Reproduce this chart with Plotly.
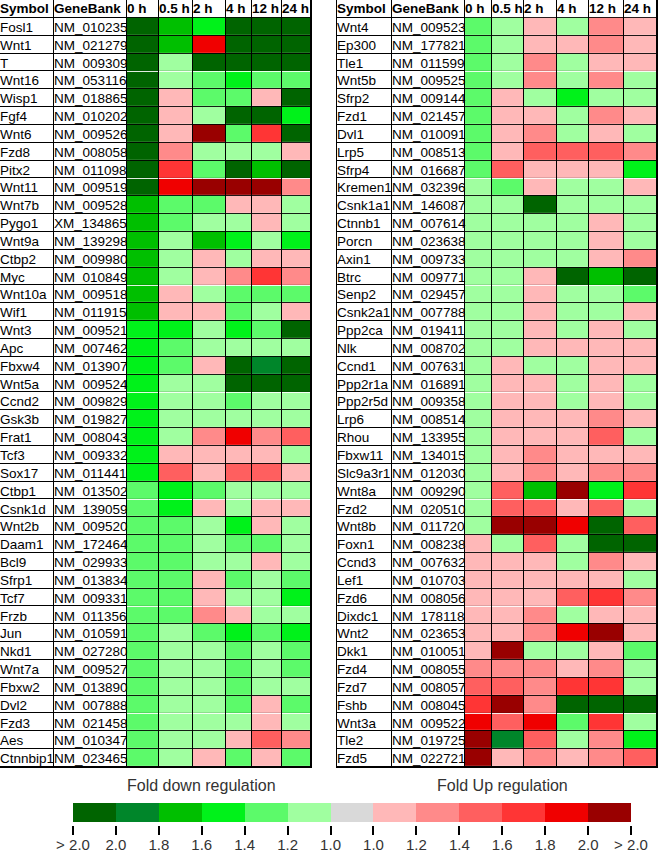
import numpy as np
import plotly.graph_objects as go

#------------------------------------------------------------
#                          DATA
#------------------------------------------------------------

time_points = ['0 h', '0.5 h', '2 h', '4 h', '12 h', '24 h']
header = ['Symbol', 'GeneBank'] + time_points

# fold level per cell: -6 (> 2.0 down) ... -1 (1.2 down), 0 (1.0), 1 (1.2 up) ... 6 (> 2.0 up)
symbols_left = ['Fosl1', 'Wnt1', 'T', 'Wnt16', 'Wisp1', 'Fgf4', 'Wnt6', 'Fzd8', 'Pitx2', 'Wnt11',
                'Wnt7b', 'Pygo1', 'Wnt9a', 'Ctbp2', 'Myc', 'Wnt10a', 'Wif1', 'Wnt3', 'Apc', 'Fbxw4',
                'Wnt5a', 'Ccnd2', 'Gsk3b', 'Frat1', 'Tcf3', 'Sox17', 'Ctbp1', 'Csnk1d', 'Wnt2b', 'Daam1',
                'Bcl9', 'Sfrp1', 'Tcf7', 'Frzb', 'Jun', 'Nkd1', 'Wnt7a', 'Fbxw2', 'Dvl2', 'Fzd3',
                'Aes', 'Ctnnbip1']
genebank_left = ['NM_010235', 'NM_021279', 'NM_009309', 'NM_053116', 'NM_018865', 'NM_010202',
                 'NM_009526', 'NM_008058', 'NM_011098', 'NM_009519', 'NM_009528', 'XM_134865',
                 'NM_139298', 'NM_009980', 'NM_010849', 'NM_009518', 'NM_011915', 'NM_009521',
                 'NM_007462', 'NM_013907', 'NM_009524', 'NM_009829', 'NM_019827', 'NM_008043',
                 'NM_009332', 'NM_011441', 'NM_013502', 'NM_139059', 'NM_009520', 'NM_172464',
                 'NM_029933', 'NM_013834', 'NM_009331', 'NM_011356', 'NM_010591', 'NM_027280',
                 'NM_009527', 'NM_013890', 'NM_007888', 'NM_021458', 'NM_010347', 'NM_023465']
fold_left = [
    [-6, -4, -3, -6, -6, -6],
    [-6, -4,  5, -6, -6, -6],
    [-6, -1, -6, -6, -6, -6],
    [-6, -1, -2, -3, -2, -2],
    [-6,  1, -2, -2,  1, -6],
    [-6,  1, -1, -6, -6, -3],
    [-6,  1,  6, -2,  4, -6],
    [-6,  2, -1, -1, -1,  1],
    [-6,  4, -2, -6, -4, -6],
    [-6,  5,  6,  6,  6,  2],
    [-4, -2, -2,  1,  1, -1],
    [-4, -2, -1, -1,  1, -1],
    [-4, -1, -4, -3, -1, -3],
    [-4, -1,  1, -1,  1,  1],
    [-4, -1,  1,  2,  4,  2],
    [-4,  1, -1, -2, -2, -2],
    [-4,  1,  1, -2, -1,  1],
    [-3, -3, -1, -3, -2, -6],
    [-3, -2, -1, -1, -1, -1],
    [-3, -2,  1, -6, -5, -6],
    [-3, -1, -1, -6, -6, -6],
    [-3, -1, -1, -2, -1, -1],
    [-3, -1, -1, -1, -1, -1],
    [-3, -1,  2,  5,  2,  3],
    [-3,  1,  1,  1,  1, -1],
    [-3,  3,  1,  3,  3,  1],
    [-2, -3, -2, -1, -1, -1],
    [-2, -3,  1, -1,  1,  1],
    [-2, -2, -1, -3,  1, -1],
    [-2, -2, -1, -2, -2, -1],
    [-2, -2, -1, -1,  1, -1],
    [-2, -2,  1, -2, -1, -2],
    [-2, -2,  1, -1, -1, -3],
    [-2, -2,  2,  1, -1, -1],
    [-2, -1, -2, -3, -2, -3],
    [-2, -1, -1, -2, -1, -2],
    [-2, -1, -1, -2, -1, -2],
    [-2, -1, -1, -2, -1, -1],
    [-2, -1, -1, -2,  1, -2],
    [-2, -1, -1, -1,  1, -1],
    [-2, -1, -1,  1,  3,  2],
    [-2, -1,  1, -2,  1, -2],
]

symbols_right = ['Wnt4', 'Ep300', 'Tle1', 'Wnt5b', 'Sfrp2', 'Fzd1', 'Dvl1', 'Lrp5', 'Sfrp4', 'Kremen1',
                 'Csnk1a1', 'Ctnnb1', 'Porcn', 'Axin1', 'Btrc', 'Senp2', 'Csnk2a1', 'Ppp2ca', 'Nlk', 'Ccnd1',
                 'Ppp2r1a', 'Ppp2r5d', 'Lrp6', 'Rhou', 'Fbxw11', 'Slc9a3r1', 'Wnt8a', 'Fzd2', 'Wnt8b', 'Foxn1',
                 'Ccnd3', 'Lef1', 'Fzd6', 'Dixdc1', 'Wnt2', 'Dkk1', 'Fzd4', 'Fzd7', 'Fshb', 'Wnt3a',
                 'Tle2', 'Fzd5']
genebank_right = ['NM_009523', 'NM_177821', 'NM_011599', 'NM_009525', 'NM_009144', 'NM_021457',
                  'NM_010091', 'NM_008513', 'NM_016687', 'NM_032396', 'NM_146087', 'NM_007614',
                  'NM_023638', 'NM_009733', 'NM_009771', 'NM_029457', 'NM_007788', 'NM_019411',
                  'NM_008702', 'NM_007631', 'NM_016891', 'NM_009358', 'NM_008514', 'NM_133955',
                  'NM_134015', 'NM_012030', 'NM_009290', 'NM_020510', 'NM_011720', 'NM_008238',
                  'NM_007632', 'NM_010703', 'NM_008056', 'NM_178118', 'NM_023653', 'NM_010051',
                  'NM_008055', 'NM_008057', 'NM_008045', 'NM_009522', 'NM_019725', 'NM_022721']
fold_right = [
    [-2, -1,  1, -1,  2,  1],
    [-2, -1,  1,  1,  2,  1],
    [-2, -1,  2, -1,  1,  1],
    [-2, -1,  2, -1,  2, -1],
    [-2,  1, -1, -3, -1, -1],
    [-2,  1,  1, -1,  2,  1],
    [-2,  1,  2, -1,  1, -1],
    [-2,  1,  3,  3,  3,  2],
    [-2,  3,  1,  1,  1, -3],
    [-1, -2,  1, -1, -1,  1],
    [-1, -1, -6, -1, -1, -1],
    [-1, -1, -1, -1,  1, -1],
    [-1, -1, -1, -1,  1, -1],
    [-1, -1, -1, -1,  1,  2],
    [-1, -1,  1, -6, -4, -6],
    [-1, -1,  1, -1, -1, -2],
    [-1, -1,  1, -1, -1,  1],
    [-1, -1,  1, -1,  1, -1],
    [-1, -1,  1,  1,  1,  1],
    [-1,  1, -1, -1,  1,  1],
    [-1,  1,  1, -1,  1, -1],
    [-1,  1,  1, -1,  1, -1],
    [-1,  1,  1,  1,  2,  1],
    [-1,  1,  1,  1,  3, -1],
    [-1,  1,  2,  1,  1,  1],
    [-1,  1,  2,  1,  2,  2],
    [-1,  3, -4,  6, -3,  4],
    [-1,  3,  3,  1,  3, -1],
    [-1,  6,  6,  5, -6,  3],
    [ 1, -1,  3, -1, -6, -6],
    [ 1,  1,  1, -1,  2,  1],
    [ 1,  1,  1,  1,  1, -1],
    [ 1,  1,  1,  3,  4,  2],
    [ 1,  1,  2, -1,  1,  1],
    [ 1,  1,  2,  5,  6,  1],
    [ 1,  6, -1, -1,  1, -2],
    [ 2,  2,  2,  1,  2, -1],
    [ 3,  3,  2,  4,  4, -1],
    [ 4,  6,  2, -6, -6, -6],
    [ 5,  3,  5, -2,  4, -1],
    [ 6, -5,  3, -1,  2, -3],
    [ 6,  1,  2,  1,  2,  3],
]

legend_levels = [-6, -5, -4, -3, -2, -1, 0, 1, 2, 3, 4, 5, 6]
legend_labels = ['> 2.0', '2.0', '1.8', '1.6', '1.4', '1.2', '1.0',
                 '1.0', '1.2', '1.4', '1.6', '1.8', '2.0', '> 2.0']

#------------------------------------------------------------
#                    LAYOUT / STYLE
#------------------------------------------------------------

W, H = 658, 853
level_colors = ['#006400', '#00862a', '#00bf00', '#00f21a', '#5cfa6a', '#a0ffa0', '#d9d9d9',
                '#ffb8b8', '#ff8a8a', '#ff5f5f', '#ff3535', '#f00000', '#990000']
n = len(level_colors)
colorscale = []
for i, c in enumerate(level_colors):
    colorscale.append([i / n, c])
    colorscale.append([(i + 1) / n, c])

edges_left = [0, 54, 127, 159, 193, 226, 252, 282, 311]
edges_right = [0, 55, 128, 155, 187, 220, 252, 287, 320]
left_px, right_px = 0, 337
table_bottom = 767
font_name = 'Liberation Sans, Arial, sans-serif'
cell_font = dict(family=font_name, size=13.5, color='black')

fig = go.Figure()


def add_table(fold, symbols, genebank, edges, xa, ya):
    nrows = len(symbols) + 1
    # white background cells (header + text columns)
    fig.add_trace(go.Heatmap(z=np.zeros((nrows, len(edges) - 1)), x=edges, y=np.arange(nrows + 1),
                             colorscale=[[0, 'white'], [1, 'white']], showscale=False,
                             xgap=1, ygap=1, hoverinfo='skip', xaxis=xa, yaxis=ya))
    fig.add_trace(go.Heatmap(z=fold, x=edges[2:], y=np.arange(1, nrows + 1),
                             colorscale=colorscale, zmin=-6.5, zmax=6.5, showscale=False,
                             xgap=1, ygap=1, xaxis=xa, yaxis=ya))
    rows = np.arange(1, nrows) + 0.6
    fig.add_trace(go.Scatter(x=[edges[0]] * (nrows - 1), y=rows, text=symbols, mode='text',
                             textposition='middle right', xaxis=xa, yaxis=ya,
                             textfont=cell_font, hoverinfo='skip'))
    fig.add_trace(go.Scatter(x=[edges[1]] * (nrows - 1), y=rows, text=genebank, mode='text',
                             textposition='middle right', xaxis=xa, yaxis=ya,
                             textfont=cell_font, hoverinfo='skip'))
    fig.add_trace(go.Scatter(x=edges[:-1], y=[0.55] * len(header), text=['<b>%s</b>' % h for h in header],
                             mode='text', textposition='middle right', xaxis=xa, yaxis=ya,
                             textfont=cell_font, hoverinfo='skip'))


add_table(fold_left, symbols_left, genebank_left, edges_left, 'x', 'y')
add_table(fold_right, symbols_right, genebank_right, edges_right, 'x2', 'y2')

# colour key
fig.add_trace(go.Heatmap(z=[legend_levels], x=np.arange(len(legend_levels) + 1), y=[0, 1],
                         colorscale=colorscale, zmin=-6.5, zmax=6.5, showscale=False,
                         xaxis='x3', yaxis='y3'))

y_dom = [1 - table_bottom / H, 1]
ax_common = dict(showgrid=False, zeroline=False, showticklabels=False, ticks='', automargin=False,
                 showline=True, linecolor='black', linewidth=1, mirror=True)

fig.update_layout(
    width=W, height=H,
    margin=dict(l=0, r=0, t=0, b=0, pad=0, autoexpand=False),
    paper_bgcolor='white', plot_bgcolor='black',
    showlegend=False,
    xaxis=dict(domain=[left_px / W, (left_px + edges_left[-1]) / W], range=[0, edges_left[-1]],
               anchor='y', **ax_common),
    yaxis=dict(domain=y_dom, range=[len(symbols_left) + 1, 0], anchor='x', **ax_common),
    xaxis2=dict(domain=[right_px / W, (right_px + edges_right[-1]) / W], range=[0, edges_right[-1]],
                anchor='y2', **ax_common),
    yaxis2=dict(domain=y_dom, range=[len(symbols_right) + 1, 0], anchor='x2', **ax_common),
    xaxis3=dict(domain=[73 / W, 631 / W], range=[0, len(legend_levels)], anchor='free',
                position=1 - 825 / H, showgrid=False, zeroline=False, automargin=False,
                tickvals=list(range(len(legend_labels))), ticktext=legend_labels,
                ticks='outside', ticklen=9, tickwidth=2, tickcolor='black',
                ticklabelstandoff=-3,
                tickfont=dict(family=font_name, size=15, color='#333333')),
    yaxis3=dict(domain=[1 - 822 / H, 1 - 803 / H], range=[0, 1], anchor='x3', automargin=False,
                showgrid=False, zeroline=False, showticklabels=False),
)

fig.add_annotation(x=3, y=1 - 796 / H, xref='x3', yref='paper', text='Fold down regulation',
                   showarrow=False, font=dict(family=font_name, size=16, color='#333333'))
fig.add_annotation(x=10, y=1 - 796 / H, xref='x3', yref='paper', text='Fold Up regulation',
                   showarrow=False, font=dict(family=font_name, size=16, color='#333333'))

# page body has a default 8px margin; drop it so the figure sits at the window corner
fig.write_html("out.html", config={'displayModeBar': False},
               post_script="document.body.style.margin = '0';")
